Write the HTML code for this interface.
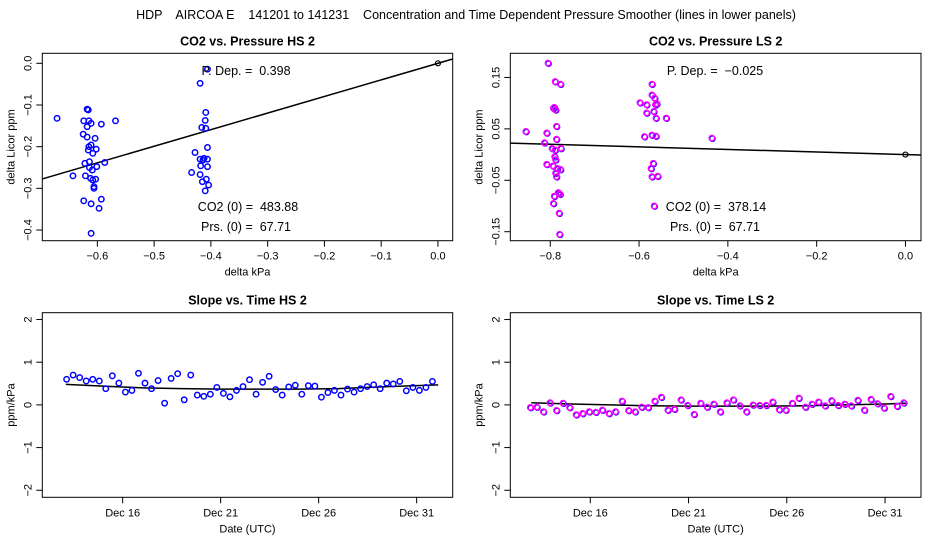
<!DOCTYPE html>
<html><head><meta charset="utf-8"><style>
body{margin:0;background:#fff;}
svg{display:block;font-family:"Liberation Sans",sans-serif;}
svg text{white-space:pre;}
</style></head><body>
<svg id="c" width="936" height="540">
<text x="466" y="19" text-anchor="middle" font-size="12.5">HDP    AIRCOA E    141201 to 141231    Concentration and Time Dependent Pressure Smoother (lines in lower panels)</text>
</svg>
<script>
// Panel 1 data (HS scatter)
const hsX=[-0.671,-0.643,-0.625,-0.624,-0.622,-0.624,-0.621,-0.618,-0.618,-0.616,-0.618,-0.615,-0.616,-0.615,-0.614,-0.614,-0.612,-0.611,-0.611,-0.611,-0.611,-0.609,-0.608,-0.608,-0.606,-0.606,-0.604,-0.603,-0.602,-0.601,-0.597,-0.593,-0.593,-0.587,-0.568,
-0.434,-0.428,-0.419,-0.419,-0.419,-0.418,-0.416,-0.415,-0.414,-0.412,-0.410,-0.410,-0.409,-0.409,-0.408,-0.406,-0.406,-0.406,-0.406,-0.404];
const hsY=[-0.132,-0.270,-0.170,-0.138,-0.240,-0.330,-0.270,-0.152,-0.110,-0.112,-0.177,-0.138,-0.208,-0.200,-0.236,-0.250,-0.276,-0.337,-0.408,-0.144,-0.196,-0.256,-0.216,-0.280,-0.296,-0.300,-0.180,-0.278,-0.206,-0.248,-0.348,-0.146,-0.326,-0.238,-0.138,
-0.262,-0.214,-0.048,-0.230,-0.267,-0.246,-0.154,-0.284,-0.232,-0.228,-0.306,-0.137,-0.118,-0.156,-0.278,-0.202,-0.230,-0.248,-0.014,-0.292];
const hsSlope=0.398;
// Panel 2 data (LS scatter)
const lsX=[-0.855,-0.813,-0.808,-0.808,-0.805,-0.796,-0.794,-0.793,-0.793,-0.791,-0.791,-0.790,-0.789,-0.789,-0.788,-0.788,-0.788,-0.786,-0.786,-0.786,-0.784,-0.782,-0.780,-0.779,-0.777,-0.777,-0.776,-0.778,
-0.598,-0.588,-0.583,-0.583,-0.573,-0.571,-0.571,-0.571,-0.571,-0.568,-0.567,-0.566,-0.565,-0.563,-0.562,-0.562,-0.560,-0.558,-0.539,-0.436];
const lsY=[0.045,0.023,0.042,-0.019,0.178,0.012,-0.022,0.090,-0.095,0.092,-0.081,-0.004,0.142,0.009,0.087,-0.010,-0.036,-0.043,0.055,0.030,-0.027,-0.074,-0.114,-0.155,0.137,-0.029,0.012,-0.077,
0.101,0.035,0.097,0.081,-0.027,-0.043,0.137,0.116,0.038,-0.017,0.084,-0.100,0.110,0.097,0.071,0.036,0.099,-0.042,0.071,0.032];
const lsSlope=-0.025;
// Panel 3 (HS slope vs time); day of December
const hsStartDay=13.14;
const hsSlopes=[0.60,0.70,0.64,0.56,0.60,0.56,0.38,0.68,0.51,0.30,0.34,0.74,0.51,0.38,0.57,0.04,0.62,0.73,0.12,0.70,0.23,0.20,0.25,0.41,0.27,0.19,0.34,0.43,0.59,0.25,0.53,0.67,0.36,0.23,0.42,0.46,0.25,0.45,0.44,0.18,0.29,0.34,0.23,0.37,0.30,0.38,0.43,0.47,0.38,0.51,0.49,0.55,0.33,0.41,0.34,0.41,0.55];
const hsSmoothDays=[13.1,15,17,19,21,23,25,27,29,31,32.1];
const hsSmoothVals=[0.48,0.44,0.40,0.38,0.37,0.37,0.37,0.38,0.42,0.45,0.47];
// Panel 4 (LS slope vs time)
const lsStartDay=12.95;
const lsSlopes=[-0.06,-0.05,-0.16,0.05,-0.13,0.04,-0.06,-0.23,-0.20,-0.16,-0.17,-0.12,-0.20,-0.16,0.09,-0.13,-0.16,-0.05,-0.06,0.09,0.18,-0.12,-0.10,0.12,-0.01,-0.22,0.04,-0.05,0.02,-0.16,0.05,0.12,-0.02,-0.16,0.00,-0.01,-0.01,0.07,-0.11,-0.12,0.04,0.16,-0.05,0.02,0.07,-0.02,0.10,-0.01,0.02,-0.02,0.11,-0.12,0.13,0.03,-0.07,0.20,-0.03,0.05];
const lsSmoothDays=[13.0,15,17,19,21,23,25,27,29,31,32.1];
const lsSmoothVals=[0.05,0.02,0.00,-0.02,-0.03,-0.03,-0.03,-0.02,0.00,0.02,0.04];
const dateTicks=[16,21,26,31];
const dateLabels=["Dec 16","Dec 21","Dec 26","Dec 31"];

const svg=document.getElementById('c');
const NS='http://www.w3.org/2000/svg';
function mk(tag,attrs,parent){const e=document.createElementNS(NS,tag);for(const k in attrs)e.setAttribute(k,attrs[k]);(parent||svg).appendChild(e);return e;}
function txt(x,y,s,size,anchor,rot,bold){const t=mk('text',{x:x,y:y,'font-size':size,'text-anchor':anchor||'middle'});if(rot)t.setAttribute('transform','rotate(-90 '+x+' '+y+')');if(bold)t.setAttribute('font-weight','bold');t.textContent=s;return t;}

function panel(o){
  const g=mk('g',{});
  
  
  const sx=v=>o.L+(v-o.x0)/(o.x1-o.x0)*(o.R-o.L);
  const sy=v=>o.B-(v-o.y0)/(o.y1-o.y0)*(o.B-o.T);
  const box=mk('rect',{x:o.L,y:o.T,width:o.R-o.L,height:o.B-o.T,fill:'none',stroke:'#000','stroke-width':1},g);
  
  
  const tt=txt((o.L+o.R)/2,o.T-8,o.title,12.5,'middle',false,true);g.appendChild(tt);
  
  
  o.xt.forEach((v,i)=>{const x=sx(v);mk('line',{x1:x,x2:x,y1:o.B,y2:o.B+6,stroke:'#000'},g);const t=txt(x,o.B+19,o.xl[i],11);g.appendChild(t);
    
    });
  o.yt.forEach((v,i)=>{const y=sy(v);mk('line',{x1:o.L-6,x2:o.L,y1:y,y2:y,stroke:'#000'},g);const t=txt(o.L-11,y,o.yl[i],11,'middle',true);g.appendChild(t);
    
    });
  const xa=txt((o.L+o.R)/2,o.B+35,o.xlab,11);g.appendChild(xa);
  
  
  const ya=txt(o.L-28,(o.T+o.B)/2,o.ylab,11,'middle',true);g.appendChild(ya);
  
  
  const clip='clip'+o.name;const cp=mk('clipPath',{id:clip},g);mk('rect',{x:o.L,y:o.T,width:o.R-o.L,height:o.B-o.T},cp);
  const inner=mk('g',{'clip-path':'url(#'+clip+')'},g);
  if(o.lineSlope!==undefined){const l=mk('line',{x1:sx(o.x0),y1:sy(o.x0*o.lineSlope),x2:sx(o.x1),y2:sy(o.x1*o.lineSlope),stroke:'#000','stroke-width':1.5},inner);
    
    }
  if(o.sdx){const pts=o.sdx.map((d,i)=>sx(d)+','+sy(o.sdy[i])).join(' ');const l=mk('polyline',{points:pts,fill:'none',stroke:'#000','stroke-width':1.5},inner);
    
    }
  o.px.forEach((v,i)=>{
    if(o.dual){mk('circle',{cx:sx(v)+0.6,cy:sy(o.py[i])+0.6,r:2.7,fill:'none',stroke:'#0000ff','stroke-width':1.2},inner);}
    const c=mk('circle',{cx:sx(v),cy:sy(o.py[i]),r:2.7,fill:'none',stroke:o.col,'stroke-width':1.5},inner);
    
    
  });
  if(o.origin){const c=mk('circle',{cx:sx(0),cy:sy(0),r:2.5,fill:'none',stroke:'#000','stroke-width':1.2},inner);
    
    }
  if(o.notes){o.notes.forEach(n=>{const t=txt(n[0],n[1],n[2],12.5);g.appendChild(t);
    
    });}
}
panel({name:'co2-pressure-hs',L:42.3,R:452.7,T:53.3,B:240.7,x0:-0.697,x1:0.026,y0:-0.4256,y1:0.024,title:'CO2 vs. Pressure HS 2',
  xt:[-0.6,-0.5,-0.4,-0.3,-0.2,-0.1,0],xl:['\u22120.6','\u22120.5','\u22120.4','\u22120.3','\u22120.2','\u22120.1','0.0'],
  yt:[0,-0.1,-0.2,-0.3,-0.4],yl:['0.0','\u22120.1','\u22120.2','\u22120.3','\u22120.4'],xlab:'delta kPa',ylab:'delta Licor ppm',
  px:hsX,py:hsY,col:'#0000ff',lineSlope:hsSlope,origin:true,
  notes:[[246,75,'P. Dep. =  0.398'],[248,211,'CO2 (0) =  483.88'],[246,231,'Prs. (0) =  67.71']]});
panel({name:'co2-pressure-ls',L:510.3,R:921,T:53.3,B:240.7,x0:-0.890,x1:0.035,y0:-0.1675,y1:0.197,title:'CO2 vs. Pressure LS 2',
  xt:[-0.8,-0.6,-0.4,-0.2,0],xl:['\u22120.8','\u22120.6','\u22120.4','\u22120.2','0.0'],
  yt:[0.15,0.05,-0.05,-0.15],yl:['0.15','0.05','\u22120.05','\u22120.15'],xlab:'delta kPa',ylab:'delta Licor ppm',
  px:lsX,py:lsY,col:'#ff00ff',dual:true,lineSlope:lsSlope,origin:true,
  notes:[[715,75,'P. Dep. =  \u22120.025'],[716,211,'CO2 (0) =  378.14'],[715,231,'Prs. (0) =  67.71']]});
const hsDays=hsSlopes.map((v,i)=>hsStartDay+i/3);
const lsDays=lsSlopes.map((v,i)=>lsStartDay+i/3);
panel({name:'slope-time-hs',L:42.3,R:452.7,T:312.7,B:497.3,x0:11.9,x1:32.84,y0:-2.165,y1:2.16,title:'Slope vs. Time HS 2',
  xt:dateTicks,xl:dateLabels,yt:[2,1,0,-1,-2],yl:['2','1','0','\u22121','\u22122'],xlab:'Date (UTC)',ylab:'ppm/kPa',
  px:hsDays,py:hsSlopes,col:'#0000ff',sdx:hsSmoothDays,sdy:hsSmoothVals});
panel({name:'slope-time-ls',L:510.3,R:921,T:312.7,B:497.3,x0:11.93,x1:32.83,y0:-2.165,y1:2.16,title:'Slope vs. Time LS 2',
  xt:dateTicks,xl:dateLabels,yt:[2,1,0,-1,-2],yl:['2','1','0','\u22121','\u22122'],xlab:'Date (UTC)',ylab:'ppm/kPa',
  px:lsDays,py:lsSlopes,col:'#ff00ff',dual:true,sdx:lsSmoothDays,sdy:lsSmoothVals});
</script>
</body></html>
